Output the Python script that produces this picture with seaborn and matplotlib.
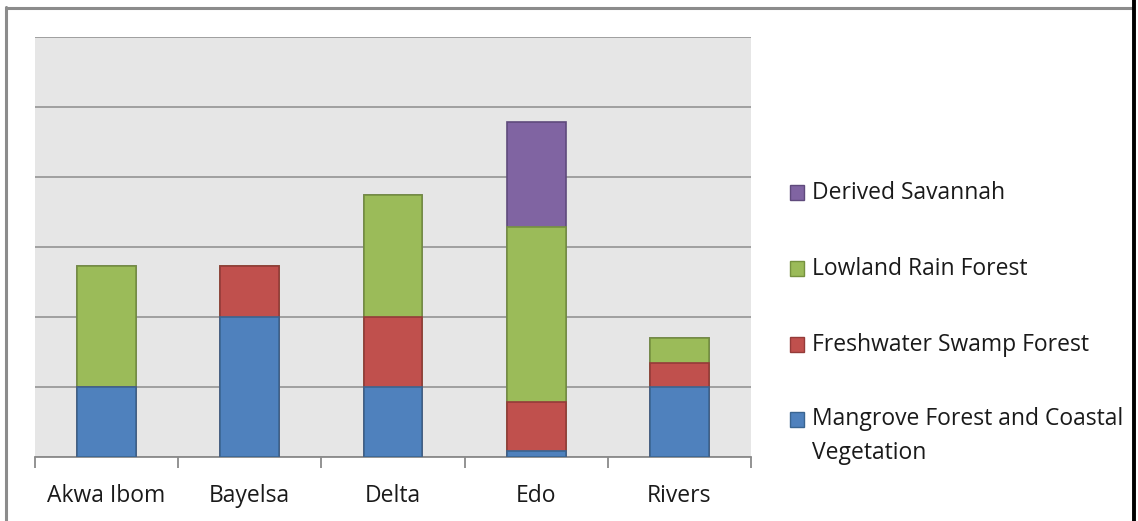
import matplotlib
matplotlib.use("Agg")
import matplotlib.pyplot as plt
import seaborn as sns
import numpy as np
import pandas as pd
from matplotlib.patches import Rectangle
from matplotlib.lines import Line2D

states = ["Akwa Ibom", "Bayelsa", "Delta", "Edo", "Rivers"]
mangrove = [1.0, 2.0, 1.0, 0.08, 1.0]
freshwater = [0.0, 0.73, 1.0, 0.70, 0.35]
lowland = [1.73, 0.0, 1.74, 2.50, 0.35]
savannah = [0.0, 0.0, 0.0, 1.51, 0.0]

series_names = ["Mangrove Forest and Coastal\nVegetation", "Freshwater Swamp Forest",
                "Lowland Rain Forest", "Derived Savannah"]
fill_colors = ["#4F81BD", "#C0504D", "#9BBB59", "#8064A2"]
edge_colors = ["#3A6591", "#943B39", "#76923F", "#5F4A7C"]

sns.set_theme(style="white")
plt.rcParams['font.family'] = ['Open Sans', 'DejaVu Sans']

fig = plt.figure(figsize=(11.38, 5.21), dpi=100)
ax = fig.add_axes([35/1138, 1 - 457/521, (751 - 35)/1138, (457 - 37)/521])

series = [mangrove, freshwater, lowland, savannah]
cum = np.cumsum(np.array(series), axis=0)

# draw from top cumulative to bottom so segments overlap correctly
for i in range(3, -1, -1):
    df = pd.DataFrame({"state": states, "value": cum[i]})
    sns.barplot(data=df, x="state", y="value", order=states, color=fill_colors[i],
                saturation=1, width=0.41, edgecolor=edge_colors[i], linewidth=1.2,
                ax=ax, zorder=3)

ax.set_facecolor("#E6E6E6")
ax.set_ylim(0, 6)
ax.set_xlim(-0.5, 4.5)
ax.set_yticks(np.arange(0, 7, 1))
ax.yaxis.grid(True, color="#9A9A9A", linewidth=1.3, zorder=0)
ax.set_axisbelow(True)
ax.set_yticklabels([])
ax.tick_params(axis="y", length=0)
ax.set_xlabel("")
ax.set_ylabel("")
for s in ["left", "right", "top"]:
    ax.spines[s].set_visible(False)
ax.spines["bottom"].set_color("#8A8A8A")
ax.spines["bottom"].set_linewidth(1.3)

# category boundary ticks
ax.set_xticks(np.arange(-0.5, 5, 1), minor=True)
ax.tick_params(axis="x", which="minor", bottom=True, length=8, width=1.3, color="#8A8A8A")
ax.tick_params(axis="x", which="major", bottom=False, length=0, pad=19.5,
               labelsize=16.5, labelcolor="#1A1A1A")

# legend (drawn manually to match layout)
sq_top = [185, 261, 337, 412]
text_base = [199, 275, 351, 459]
leg_names = series_names[::-1]
leg_fill = fill_colors[::-1]
leg_edge = edge_colors[::-1]
for yt, yb, name, fc, ec in zip(sq_top, text_base, leg_names, leg_fill, leg_edge):
    fig.add_artist(Rectangle((789.5/1138, 1 - (yt + 14.5)/521), 14.5/1138, 14.5/521,
                             facecolor=fc, edgecolor=ec, linewidth=1,
                             transform=fig.transFigure))
    fig.text(812/1138, 1 - yb/521, name, ha="left", va="baseline",
             fontsize=16.5, color="#1A1A1A", linespacing=1.54)

# outer frame
fig.add_artist(Line2D([6/1138, 6/1138], [0, 1 - 7/521], color="#8C8C8C", linewidth=2.2,
                      transform=fig.transFigure))
fig.add_artist(Line2D([6/1138, 1132/1138], [1 - 8/521, 1 - 8/521], color="#8C8C8C",
                      linewidth=2.2, transform=fig.transFigure))
fig.add_artist(Line2D([1134/1138, 1134/1138], [0, 1], color="black", linewidth=2.8,
                      transform=fig.transFigure))

fig.savefig("out.png", dpi=100, facecolor="white")
